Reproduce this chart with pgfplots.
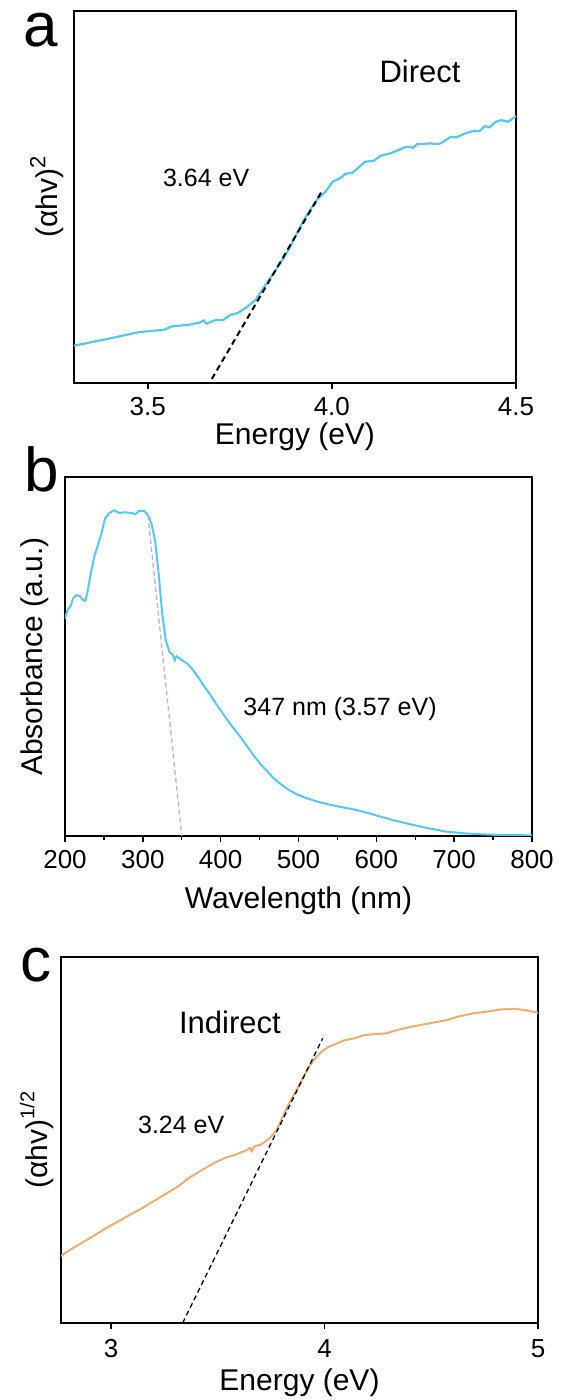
\documentclass[border=0pt]{standalone}
\usepackage{fontspec}
\setmainfont{Liberation Sans}
\usepackage{pgfplots}
\pgfplotsset{compat=1.18}
\definecolor{cblue}{RGB}{85,200,240}
\definecolor{corange}{RGB}{240,172,112}
\definecolor{cdash}{RGB}{185,180,215}
\pgfplotsset{
  myax/.style={
    scale only axis, anchor=south west,
    axis line style={line width=1.8pt, black},
    tick align=outside, xtick pos=lower, ytick=\empty,
    major tick length=6pt,
    major tick style={line width=1.8pt, black},
    xticklabel style={font=\fontsize{26}{30}\selectfont, anchor=base},
    xlabel style={font=\fontsize{30}{36}\selectfont, at={(axis description cs:0.5,0)}, anchor=base},
    ylabel style={font=\fontsize{30}{36}\selectfont, at={(axis description cs:0,0.5)}, anchor=center},
  }
}
\begin{document}
\begin{tikzpicture}
\path[use as bounding box] (0,0) rectangle (560pt,1400pt);
% ---------------- panel a
\begin{axis}[myax, at={(74pt,1017pt)}, width=442pt, height=372pt,
  xmin=3.3, xmax=4.5, ymin=0, ymax=1118,
  xtick={3.5,4.0,4.5}, xticklabels={3.5,4.0,4.5},
  xticklabel style={yshift=-27pt},
  xlabel={Energy (eV)}, xlabel style={yshift=-61.5pt},
  ylabel={(αhv)\raisebox{0.42em}{\fontsize{22}{26}\selectfont 2}}, ylabel style={yshift=27pt}]
\addplot[cblue, line width=2.2pt] coordinates {
(3.300,112)(3.389,132)(3.477,153)(3.545,160)(3.565,170)(3.613,175)(3.642,182)(3.652,188)(3.660,178)(3.681,188)(3.706,190)(3.725,205)(3.744,210)(3.769,228)(3.793,250)(3.817,290)(3.842,330)(3.866,370)(3.885,405)(3.905,450)(3.924,490)(3.944,525)(3.963,555)(3.983,575)(4.002,605)(4.022,615)(4.036,628)(4.056,632)(4.070,645)(4.090,665)(4.114,668)(4.133,683)(4.158,690)(4.177,698)(4.202,710)(4.221,707)(4.231,718)(4.245,718)(4.265,720)(4.289,718)(4.299,722)(4.323,740)(4.338,738)(4.362,750)(4.386,758)(4.401,757)(4.415,772)(4.428,768)(4.445,785)(4.459,790)(4.479,785)(4.500,802)};
\addplot[black, line width=2pt, dash pattern=on 6pt off 4pt] coordinates {(3.674,12)(3.976,582)};
\node[anchor=base, font=\fontsize{31}{36}\selectfont] at (rel axis cs:0.783,0.809) {Direct};
\node[anchor=base, font=\fontsize{25}{30}\selectfont] at (rel axis cs:0.299,0.527) {3.64 eV};
\end{axis}
% ---------------- panel b
\begin{axis}[myax, at={(65pt,564pt)}, width=467pt, height=359pt,
  axis line style={line width=1.4pt},
  major tick style={line width=1.4pt},
  xmin=200, xmax=800, ymin=0, ymax=1078,
  xtick={200,300,400,500,600,700,800}, xticklabels={200,300,400,500,600,700,800},
  minor xtick={250,350,450,550,650,750}, minor tick length=4pt,
  minor tick style={line width=1.2pt, black},
  xticklabel style={yshift=-27pt},
  xlabel={Wavelength (nm)}, xlabel style={yshift=-73pt},
  ylabel={Absorbance (a.u.)}, ylabel style={yshift=30.5pt}]
\addplot[cblue, line width=2pt] coordinates {
(200,653)(203.2,678)(207.8,693)(210.1,713)(214.7,723)(219.3,720)(222.5,710)(226.2,706)(228.5,728)(233.1,788)(237.6,838)(242.2,873)(246.8,908)(251.4,953)(256.0,968)(262.9,978)(269.8,970)(276.7,972)(285.9,970)(290.4,966)(295.0,976)(301.9,976)(306.5,963)(311.1,938)(315.7,888)(320.3,788)(324.9,668)(329.5,588)(334.1,553)(338.7,543)(341.0,528)(343.3,540)(350.1,528)(357.0,518)(363.9,500)(370.8,478)(377.7,453)(386.9,423)(396.1,390)(405.2,360)(414.4,330)(423.6,303)(432.8,273)(442.0,243)(451.1,216)(460.3,193)(469.5,170)(478.7,153)(487.9,138)(497.1,126)(510.8,113)(529.2,100)(552.2,88)(575.1,78)(598.1,63)(621.0,48)(644.0,35)(666.9,23)(689.9,13)(712.9,8)(735.8,5)(758.8,3)(800,2)};
\addplot[cdash, line width=1.3pt, dash pattern=on 5pt off 3pt] coordinates {(306.5,963)(350.1,0)};
\node[anchor=base, font=\fontsize{25}{30}\selectfont] at (rel axis cs:0.589,0.337) {347 nm (3.57 eV)};
\end{axis}
% ---------------- panel c
\begin{axis}[myax, at={(61pt,77pt)}, width=477pt, height=366pt,
  xmin=2.765, xmax=5, ymin=0, ymax=1102,
  xtick={3,4,5}, xticklabels={3,4,5},
  xticklabel style={yshift=-29pt},
  xlabel={Energy (eV)}, xlabel style={yshift=-67pt},
  ylabel={(αhv)\raisebox{0.45em}{\fontsize{20}{24}\selectfont 1/2}}, ylabel style={yshift=24pt}]
\addplot[corange, line width=2pt] coordinates {
(2.765,202)(2.812,222)(2.896,254)(2.980,287)(3.064,317)(3.148,347)(3.231,379)(3.315,412)(3.365,437)(3.416,457)(3.483,482)(3.533,497)(3.583,507)(3.634,520)(3.650,527)(3.659,517)(3.671,532)(3.701,537)(3.734,552)(3.751,562)(3.776,582)(3.801,617)(3.826,652)(3.852,682)(3.877,712)(3.902,742)(3.927,772)(3.952,794)(3.986,817)(4.019,832)(4.053,840)(4.086,850)(4.137,857)(4.187,867)(4.237,870)(4.288,872)(4.338,882)(4.405,892)(4.489,902)(4.573,912)(4.623,922)(4.690,932)(4.757,937)(4.824,944)(4.891,946)(4.941,942)(5.000,934)};
\addplot[black, line width=1.3pt, dash pattern=on 5pt off 3.5pt] coordinates {(3.335,0)(3.991,857)};
\node[anchor=base, font=\fontsize{31}{36}\selectfont] at (rel axis cs:0.354,0.792) {Indirect};
\node[anchor=base, font=\fontsize{25}{30}\selectfont] at (rel axis cs:0.252,0.519) {3.24 eV};
\end{axis}
% panel letters
\node[anchor=base, inner sep=0pt, font=\fontsize{62}{68}\selectfont] at (41pt,1353pt) {a};
\node[anchor=base, inner sep=0pt, font=\fontsize{62}{68}\selectfont] at (41.5pt,908pt) {b};
\node[anchor=base, inner sep=0pt, font=\fontsize{62}{68}\selectfont] at (36pt,418pt) {c};
\end{tikzpicture}
\end{document}
